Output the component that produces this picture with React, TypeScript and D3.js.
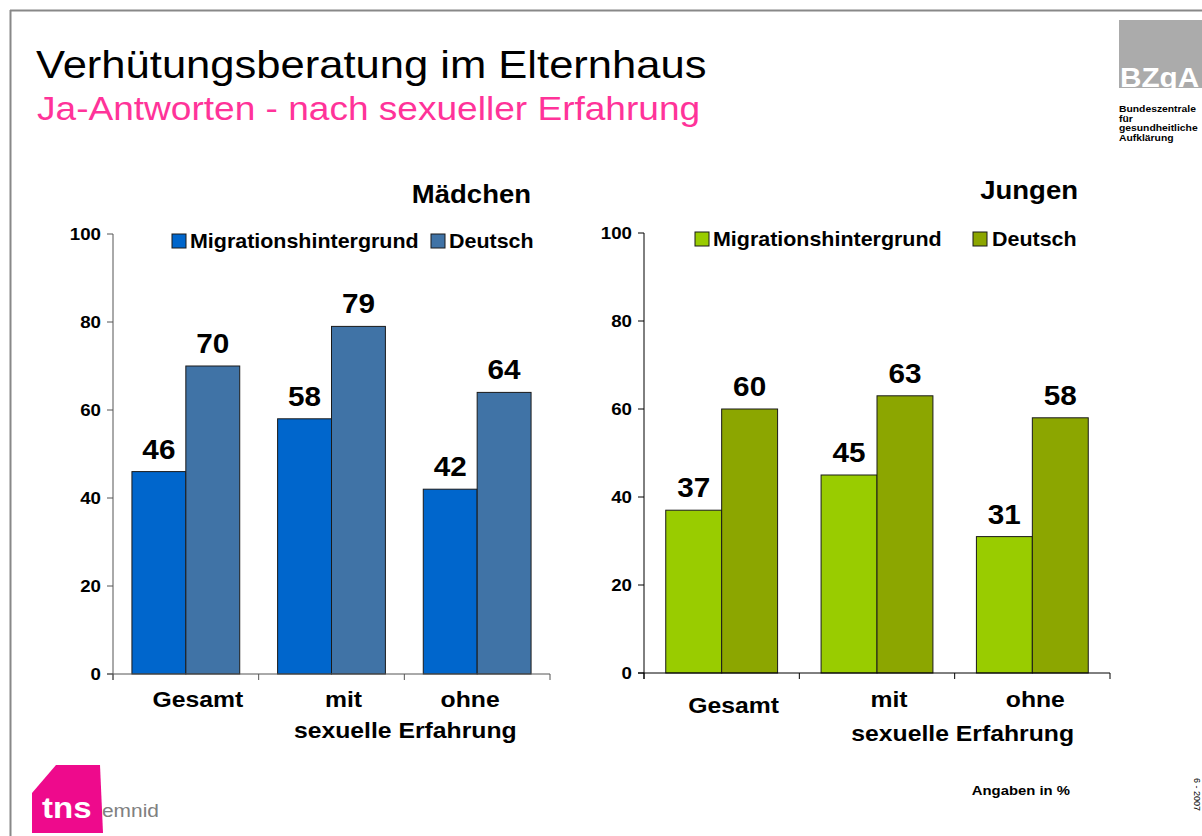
import React from "react";
import * as d3 from "d3";

const categories = ["Gesamt", "mit", "ohne"];
const seriesNames = ["Migrationshintergrund", "Deutsch"];
const girlsMigration = [46, 58, 42];
const girlsGerman = [70, 79, 64];
const boysMigration = [37, 45, 31];
const boysGerman = [60, 63, 58];
const yTicks = [0, 20, 40, 60, 80, 100];
const subLabel = "sexuelle Erfahrung";

const FONT = "'Liberation Sans', Arial, Helvetica, sans-serif";
const SX = 1.1;

type PanelProps = {
  x0: number; x1: number; yTop: number; yBottom: number;
  values: number[][]; colors: string[]; axisColor: string;
  title: string; titleX: number; titleY: number;
  legendY: number; legendXs: number[]; legendTextXs: number[];
  catOffsets: number[]; catY: number[]; subOffset: number; subY: number;
  pad: number;
};

function SText(props: any) {
  const { x, y, anchor, children, ...rest } = props;
  return (
    <text transform={`translate(${x},${y}) scale(${SX},1)`} textAnchor={anchor || "start"} fontFamily={FONT} {...rest}>
      {children}
    </text>
  );
}

function Panel(p: PanelProps) {
  const x = d3.scaleBand<string>().domain(categories).range([p.x0, p.x1]).padding(0);
  const bw = x.bandwidth();
  const xs = d3.scaleBand<string>().domain(seriesNames).range([bw * p.pad, bw * (1 - p.pad)]).padding(0);
  const y = d3.scaleLinear().domain([0, 100]).range([p.yBottom, p.yTop]);
  const boundaries = [p.x0, ...categories.map((c) => (x(c) as number) + bw)];
  return (
    <g>
      {categories.map((c, ci) =>
        seriesNames.map((s, si) => {
          const v = p.values[si][ci];
          const bx = (x(c) as number) + (xs(s) as number);
          return (
            <g key={c + s}>
              <rect x={bx} y={y(v)} width={xs.bandwidth()} height={y(0) - y(v)} fill={p.colors[si]} stroke="#1a1a1a" strokeWidth={1} />
              <SText x={bx + xs.bandwidth() / 2} y={y(v) - 13} anchor="middle" fontSize={27} fontWeight="bold" fill="#000">{v}</SText>
            </g>
          );
        })
      )}
      {/* y axis */}
      <line x1={p.x0} x2={p.x0} y1={y(100)} y2={y(0) + 6} stroke={p.axisColor} strokeWidth={1} />
      {yTicks.map((t) => (
        <g key={t}>
          <line x1={p.x0 - 6} x2={p.x0} y1={y(t)} y2={y(t)} stroke={p.axisColor} strokeWidth={1} />
          <SText x={p.x0 - 12} y={y(t) + 6} anchor="end" fontSize={17} fontWeight="bold" fill="#000">{t}</SText>
        </g>
      ))}
      {/* x axis */}
      <line x1={p.x0 - 6} x2={p.x1} y1={y(0)} y2={y(0)} stroke={p.axisColor} strokeWidth={1} />
      {boundaries.map((b, i) => (
        <line key={i} x1={b} x2={b} y1={y(0)} y2={y(0) + 6} stroke={p.axisColor} strokeWidth={1} />
      ))}
      {categories.map((c, ci) => (
        <SText key={c} x={(x(c) as number) + bw / 2 + p.catOffsets[ci]} y={p.catY[ci]} anchor="middle" fontSize={22.5} fontWeight="bold" fill="#000">{c}</SText>
      ))}
      <SText x={(x(categories[1]) as number) + bw + p.subOffset} y={p.subY} anchor="middle" fontSize={22.5} fontWeight="bold" fill="#000">{subLabel}</SText>
      {/* title */}
      <SText x={p.titleX} y={p.titleY} anchor="end" fontSize={25} fontWeight="bold" fill="#000">{p.title}</SText>
      {/* legend */}
      {seriesNames.map((s, si) => (
        <g key={s}>
          <rect x={p.legendXs[si]} y={p.legendY - 14} width={14} height={14} fill={p.colors[si]} stroke="#1a1a1a" strokeWidth={1} />
          <SText x={p.legendTextXs[si]} y={p.legendY} fontSize={19.5} fontWeight="bold" fill="#000">{s}</SText>
        </g>
      ))}
    </g>
  );
}

export default function App() {
  return (
    <svg width={1202} height={836} style={{ position: "absolute", left: 0, top: 0 }} xmlns="http://www.w3.org/2000/svg">
      <rect x={0} y={0} width={1202} height={836} fill="#fff" />
      {/* frame */}
      <line x1={10} x2={1202} y1={10.5} y2={10.5} stroke="#888" strokeWidth={2} />
      <line x1={10.5} x2={10.5} y1={10} y2={836} stroke="#888" strokeWidth={2} />
      {/* titles */}
      <SText x={36} y={78} fontSize={39.6} fill="#000">Verhütungsberatung im Elternhaus</SText>
      <SText x={37} y={120} fontSize={33.7} fill="#ff3399">Ja-Antworten - nach sexueller Erfahrung</SText>
      {/* BZgA logo */}
      <rect x={1119} y={20} width={83} height={68} fill="#ababab" />
      <SText x={1120} y={87} fontSize={27} fontWeight="bold" fill="#fff">BZgA</SText>
      {["Bundeszentrale", "für", "gesundheitliche", "Aufklärung"].map((t, i) => (
        <SText key={t} x={1119} y={112 + i * 9.5} fontSize={9.4} fontWeight="bold" fill="#000">{t}</SText>
      ))}
      <Panel
        x0={113} x1={550} yTop={234} yBottom={674}
        values={[girlsMigration, girlsGerman]} colors={["#0066cc", "#4073a6"]} axisColor="#555"
        title="Mädchen" titleX={531} titleY={203}
        legendY={248} legendXs={[172, 431]} legendTextXs={[190, 449]}
        catOffsets={[12, 12, -7]} catY={[707, 707, 707]} subOffset={1} subY={738} pad={0.13}
      />
      <Panel
        x0={644} x1={1110} yTop={233} yBottom={673}
        values={[boysMigration, boysGerman]} colors={["#99cc00", "#8ca600"]} axisColor="#000"
        title="Jungen" titleX={1078} titleY={199}
        legendY={246} legendXs={[695, 973]} legendTextXs={[713, 992]}
        catOffsets={[12, 12, 3]} catY={[713, 707, 707]} subOffset={8} subY={741} pad={0.14}
      />
      <SText x={1070} y={795} anchor="end" fontSize={13.5} fontWeight="bold" fill="#000">Angaben in %</SText>
      {/* tns emnid logo */}
      <path d="M32,793 L56,765 L100,765 L103,833 L32,833 Z" fill="#ee0a8c" />
      <SText x={42} y={818} fontSize={30} fontWeight="bold" fill="#fff">tns</SText>
      <SText x={102} y={817} fontSize={19} fill="#808080">emnid</SText>
      <text transform="translate(1194,778) rotate(90)" fontFamily={FONT} fontSize={9} fill="#000">6 - 2007</text>
    </svg>
  );
}
